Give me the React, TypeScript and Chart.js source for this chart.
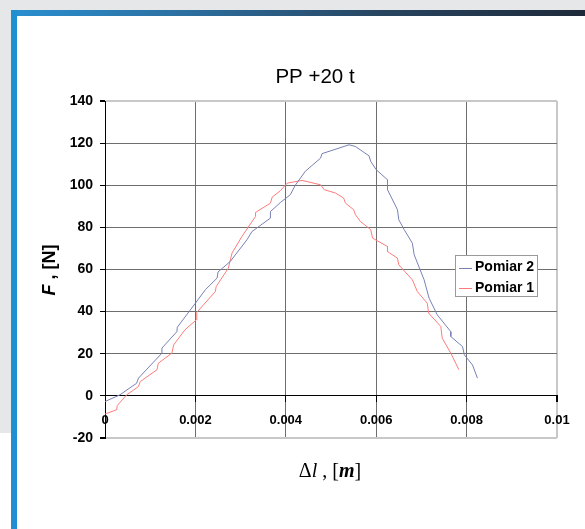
import React, { useEffect, useRef } from "react";
import { Chart, registerables } from "chart.js";

Chart.register(...registerables);

const chartTitle = "PP +20 t";
const seriesNames = ["Pomiar 2", "Pomiar 1"];
const seriesColors = ["#7880b4", "#ff7b7b"];

const pomiar2X = [0, 0.00033, 0.0007, 0.00074, 0.00126, 0.00126, 0.00159, 0.0016, 0.002, 0.00222, 0.00248, 0.0025, 0.00277, 0.00314, 0.00325, 0.00366, 0.00366, 0.00388, 0.0041, 0.00421, 0.00443, 0.00477, 0.0048, 0.0054, 0.00554, 0.00584, 0.00588, 0.006, 0.00625, 0.00625, 0.00647, 0.0065, 0.00662, 0.0068, 0.00684, 0.00706, 0.00717, 0.00735, 0.00765, 0.00765, 0.00791, 0.00795, 0.00813, 0.00824];
const pomiar2Y = [-2.7, 0.5, 6, 8.4, 20.3, 22.7, 30.5, 32.6, 44, 50.4, 55.9, 58.8, 63.8, 74.1, 78, 84.4, 87.5, 91.8, 95.5, 100, 106.6, 112.9, 115, 119.2, 118.4, 114, 111.3, 107.4, 102.6, 97.9, 88.4, 83.6, 78.9, 72.5, 67, 55.1, 46.4, 38.5, 30.5, 28.2, 23.4, 19.5, 14.7, 8.4];

const pomiar1X = [0, 0.00026, 0.00027, 0.00048, 0.00074, 0.00078, 0.00115, 0.00118, 0.00148, 0.00152, 0.00163, 0.00177, 0.00202, 0.00203, 0.00244, 0.00246, 0.00273, 0.00281, 0.00303, 0.00333, 0.00333, 0.00366, 0.0037, 0.00388, 0.00403, 0.00436, 0.00477, 0.00485, 0.0051, 0.00528, 0.00532, 0.0055, 0.00554, 0.00565, 0.00588, 0.00592, 0.00625, 0.00625, 0.00647, 0.0065, 0.0068, 0.00691, 0.00713, 0.00716, 0.00743, 0.00746, 0.00765, 0.00783];
const pomiar1Y = [-8.6, -6.6, -4.6, 0.5, 4.4, 6.8, 12.4, 15.5, 20.3, 24.2, 27.4, 31.4, 36.1, 39.6, 49.5, 51.9, 60.7, 67.8, 75.7, 85.2, 87.1, 91.5, 94.4, 97.4, 101, 102.3, 100.2, 97.9, 96.3, 93.9, 91.5, 88.4, 86, 82.8, 78.9, 74.9, 70.9, 68.5, 65.4, 62.2, 55.1, 49.5, 44, 39.3, 32.9, 27.4, 20.3, 12.4];

const xTicks = [0, 0.002, 0.004, 0.006, 0.008, 0.01];
const xTickLabels = ["0", "0.002", "0.004", "0.006", "0.008", "0.01"];
const yTicks = [-20, 0, 20, 40, 60, 80, 100, 120, 140];
const yTickLabels = ["-20", "0", "20", "40", "60", "80", "100", "120", "140"];

const SANS = '"Liberation Sans", Arial, sans-serif';
const SERIF = '"Liberation Serif", "Times New Roman", serif';

type Part = [string, string];
const xTitleParts: Part[] = [
  ["\u0394", `20px ${SERIF}`],
  ["l", `italic 20px ${SERIF}`],
  [" , [", `20px ${SERIF}`],
  ["m", `italic bold 20px ${SERIF}`],
  ["]", `20px ${SERIF}`],
];
const yTitleParts: Part[] = [
  ["F", `italic bold 18px ${SANS}`],
  [" , [N]", `bold 18px ${SANS}`],
];

function drawRich(ctx: CanvasRenderingContext2D, parts: Part[], cx: number, by: number) {
  let total = 0;
  for (const [t, f] of parts) {
    ctx.font = f;
    total += ctx.measureText(t).width;
  }
  let x = cx - total / 2;
  ctx.textAlign = "left";
  ctx.textBaseline = "alphabetic";
  for (const [t, f] of parts) {
    ctx.font = f;
    ctx.fillText(t, x, by);
    x += ctx.measureText(t).width;
  }
}

const decorPlugin = {
  id: "decor",
  afterDraw(chart: any) {
    const ctx: CanvasRenderingContext2D = chart.ctx;
    ctx.save();
    ctx.fillStyle = "#000";
    ctx.font = `20.5px ${SANS}`;
    ctx.textAlign = "center";
    ctx.textBaseline = "alphabetic";
    ctx.fillText(chartTitle, 315, 83);

    drawRich(ctx, xTitleParts, 330, 477);

    ctx.save();
    ctx.translate(55, 270);
    ctx.rotate(-Math.PI / 2);
    drawRich(ctx, yTitleParts, 0, 0);
    ctx.restore();

    // legend
    const lx = 455, ly = 255, lw = 83, lh = 42;
    ctx.fillStyle = "#fff";
    ctx.fillRect(lx, ly, lw, lh);
    ctx.strokeStyle = "#9a9a9a";
    ctx.lineWidth = 1;
    ctx.strokeRect(lx + 0.5, ly + 0.5, lw - 1, lh - 1);
    const rows = [267.5, 288];
    chart.data.datasets.forEach((ds: any, i: number) => {
      const y = rows[i];
      ctx.strokeStyle = ds.borderColor;
      ctx.beginPath();
      ctx.moveTo(459, Math.round(y) + 0.5);
      ctx.lineTo(472, Math.round(y) + 0.5);
      ctx.stroke();
      ctx.fillStyle = "#000";
      ctx.font = `bold 14px ${SANS}`;
      ctx.textAlign = "left";
      ctx.textBaseline = "middle";
      ctx.fillText(ds.label, 475, y);
    });
    ctx.restore();
  },
};

export default function App() {
  const ref = useRef<HTMLCanvasElement>(null);
  useEffect(() => {
    if (!ref.current) return;
    const mk = (xs: number[], ys: number[]) => xs.map((x, i) => ({ x, y: ys[i] }));
    const chart = new Chart(ref.current, {
      type: "scatter",
      data: {
        datasets: [
          { label: seriesNames[0], data: mk(pomiar2X, pomiar2Y), borderColor: seriesColors[0], backgroundColor: seriesColors[0], showLine: true, pointRadius: 0, borderWidth: 1, tension: 0 },
          { label: seriesNames[1], data: mk(pomiar1X, pomiar1Y), borderColor: seriesColors[1], backgroundColor: seriesColors[1], showLine: true, pointRadius: 0, borderWidth: 1, tension: 0 },
        ],
      },
      options: {
        animation: false,
        responsive: false,
        devicePixelRatio: 1,
        layout: { padding: { left: 45, right: 28, top: 101, bottom: 91 } },
        plugins: { legend: { display: false }, tooltip: { enabled: false }, title: { display: false } },
        scales: {
          x: {
            type: "linear",
            min: 0,
            max: 0.01,
            position: { y: 0 } as any,
            afterBuildTicks: (s: any) => { s.ticks = xTicks.map((v) => ({ value: v })); },
            ticks: {
              color: "#000",
              font: { family: SANS, size: 13, weight: "bold" },
              padding: 11,
              maxRotation: 0,
              autoSkip: false,
              callback: (v: any) => xTickLabels[xTicks.indexOf(Number(v))] ?? "",
            },
            grid: {
              color: (c: any) => (c.tick && c.tick.value === 0.01 ? "#c8c8c8" : c.tick && c.tick.value === 0 ? "#000" : "#6e6e6e"),
              lineWidth: (c: any) => (c.tick && c.tick.value === 0.01 ? 2 : 1),
              tickColor: "#000",
              tickLength: 6,
              drawTicks: true,
            },
            border: { display: true, color: "#000", width: 1 },
          },
          y: {
            type: "linear",
            min: -20,
            max: 140,
            afterBuildTicks: (s: any) => { s.ticks = yTicks.map((v) => ({ value: v })); },
            afterFit: (s: any) => { s.width = 60; },
            ticks: {
              color: "#000",
              font: { family: SANS, size: 14, weight: "bold" },
              padding: 7,
              autoSkip: false,
              callback: (v: any) => yTickLabels[yTicks.indexOf(Number(v))] ?? "",
            },
            grid: {
              color: (c: any) => {
                const v = c.tick && c.tick.value;
                if (v === 140 || v === -20) return "#c8c8c8";
                if (v === 0) return "#000";
                return "#6e6e6e";
              },
              lineWidth: (c: any) => {
                const v = c.tick && c.tick.value;
                return v === 140 || v === -20 ? 2 : 1;
              },
              tickColor: "#000",
              tickLength: 5,
            },
            border: { display: true, color: "#000", width: 1 },
          },
        },
      },
      plugins: [decorPlugin],
    });
    return () => chart.destroy();
  }, []);

  return (
    <div style={{ position: "absolute", left: 0, top: 0, width: 585, height: 529, background: "#fff", overflow: "hidden" }}>
      <div style={{ position: "absolute", left: 0, top: 0, width: 585, height: 10, background: "#e6e7e8" }} />
      <div style={{ position: "absolute", left: 0, top: 0, width: 11, height: 433, background: "#e6e7e8" }} />
      <div style={{ position: "absolute", left: 11, top: 10, width: 574, height: 6, background: "linear-gradient(to right, #2a8fd0 0%, #2c6fa0 30%, #27445f 65%, #1e2a3a 100%)" }} />
      <div style={{ position: "absolute", left: 11, top: 10, width: 6, height: 519, background: "#1f8fd2" }} />
      <canvas ref={ref} width={585} height={529} style={{ position: "absolute", left: 0, top: 0, width: 585, height: 529 }} />
    </div>
  );
}
